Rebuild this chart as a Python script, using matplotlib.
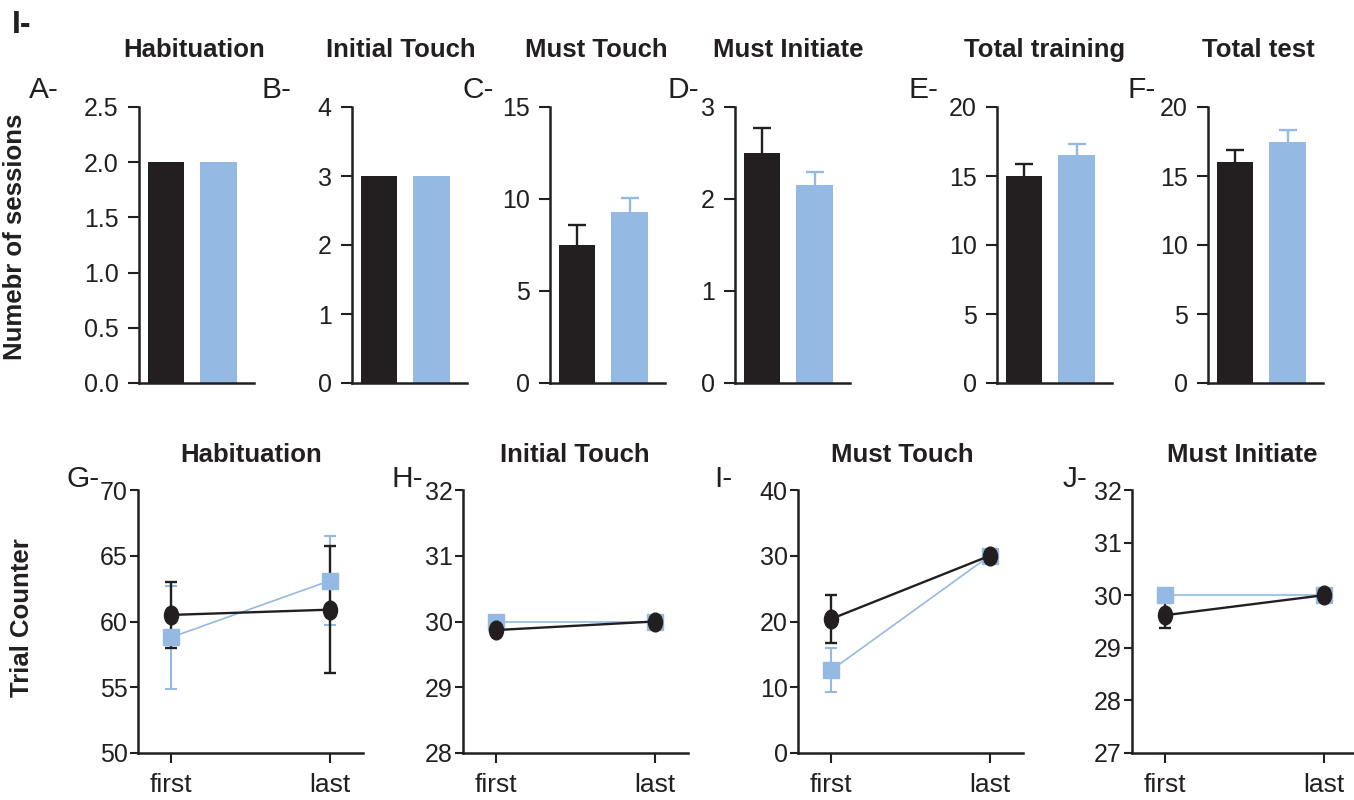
import matplotlib
matplotlib.use('Agg')
import matplotlib.pyplot as plt
from matplotlib.markers import MarkerStyle
from matplotlib.transforms import Affine2D

# --- data ---
bar_titles = ["Habituation", "Initial Touch", "Must Touch", "Must Initiate", "Total training", "Total test"]
bar_letters = ["A-", "B-", "C-", "D-", "E-", "F-"]
bar_black = [2.0, 3.0, 7.5, 2.5, 15.0, 16.0]
bar_black_err = [0.0, 0.0, 1.1, 0.27, 0.9, 0.9]
bar_blue = [2.0, 3.0, 9.3, 2.15, 16.5, 17.5]
bar_blue_err = [0.0, 0.0, 0.75, 0.14, 0.8, 0.85]
bar_ylims = [2.5, 4, 15, 3, 20, 20]
bar_ysteps = [0.5, 1, 5, 1, 5, 5]

line_titles = ["Habituation", "Initial Touch", "Must Touch", "Must Initiate"]
line_letters = ["G-", "H-", "I-", "J-"]
sessions = ["first", "last"]
line_black = [[60.5, 60.9], [29.87, 30.0], [20.4, 30.0], [29.62, 30.0]]
line_black_err = [[2.5, 4.85], [0.0, 0.0], [3.7, 0.0], [0.25, 0.0]]
line_blue = [[58.8, 63.1], [30.0, 30.0], [12.6, 30.0], [30.0, 30.0]]
line_blue_err = [[3.9, 3.4], [0.0, 0.0], [3.3, 0.0], [0.0, 0.0]]
line_ylims = [(50, 70), (28, 32), (0, 40), (27, 32)]
line_ysteps = [5, 1, 10, 1]

BLACK = '#231f20'
BLUE = '#94b9e2'
W, H = 1354, 800

plt.rcParams['font.family'] = ['Liberation Sans', 'DejaVu Sans']
plt.rcParams['text.color'] = BLACK

fig = plt.figure(figsize=(W / 100, H / 100), dpi=100)

def px_axes(x0, top, w, bottom):
    return fig.add_axes([x0 / W, 1 - bottom / H, w / W, (bottom - top) / H])

def style(ax, ypad, xpad):
    for s in ['top', 'right']:
        ax.spines[s].set_visible(False)
    for s in ['left', 'bottom']:
        ax.spines[s].set_linewidth(1.8)
        ax.spines[s].set_color(BLACK)
    ax.tick_params(axis='y', length=8, width=1.5, color=BLACK, labelsize=18,
                   labelcolor=BLACK, pad=ypad)
    ax.tick_params(axis='x', length=8, width=1.5, color=BLACK, labelsize=19,
                   labelcolor=BLACK, pad=xpad)
    ax.patch.set_visible(False)

def upper_err(ax, x, y, err, color):
    _, caps, _ = ax.errorbar([x], [y], yerr=[[0], [err]], fmt='none', ecolor=color,
                             elinewidth=1.7, capsize=6.5, capthick=1.7, zorder=1)
    caps[0].set_visible(False)

# top row: bar charts
bar_x0 = [139, 352, 550, 735, 997, 1208]
title_x = [194, 401, 596, 788, 1045, 1258]
letter_x = [29, 261, 462, 667, 908, 1127]
for i in range(6):
    ax = px_axes(bar_x0[i], 107, 115, 383)
    ax.bar([0], [bar_black[i]], width=0.69, color=BLACK, zorder=2)
    ax.bar([1], [bar_blue[i]], width=0.7, color=BLUE, zorder=2)
    if bar_black_err[i] > 0:
        upper_err(ax, 0, bar_black[i], bar_black_err[i], BLACK)
    if bar_blue_err[i] > 0:
        upper_err(ax, 1, bar_blue[i], bar_blue_err[i], BLUE)
    ax.set_xlim(-0.514, 1.676)
    ax.set_ylim(0, bar_ylims[i])
    n = int(round(bar_ylims[i] / bar_ysteps[i]))
    ticks = [k * bar_ysteps[i] for k in range(n + 1)]
    ax.set_yticks(ticks)
    if i == 0:
        ax.set_yticklabels(['%.1f' % t for t in ticks])
    else:
        ax.set_yticklabels(['%d' % t for t in ticks])
    ax.set_xticks([])
    style(ax, 6.5, 6)
    fig.text(title_x[i] / W, 1 - 57 / H, bar_titles[i], ha='center', va='baseline',
             fontsize=18.5, fontweight='bold')
    fig.text(letter_x[i] / W, 1 - 98 / H, bar_letters[i], ha='left', va='baseline',
             fontsize=21.5)

# bottom row: first vs last sessions
line_x0 = [138, 463, 798, 1132]
ltitle_x = [251, 575, 902, 1242]
lletter_x = [67, 392, 714, 1063]
ellipse = MarkerStyle('o', transform=Affine2D().scale(0.75, 1.0))
for i in range(4):
    ax = px_axes(line_x0[i], 490, 225, 753)
    xs = [0, 1]
    ax.errorbar(xs, line_blue[i], yerr=line_blue_err[i], color=BLUE, lw=1.2,
                marker='s', ms=11.5, mec=BLUE, mfc=BLUE, ecolor=BLUE,
                elinewidth=1.5, capsize=4, capthick=1.5, clip_on=False)
    ax.errorbar(xs, line_black[i], yerr=line_black_err[i], color=BLACK, lw=1.7,
                marker=ellipse, ms=13.5, mec=BLACK, mfc=BLACK, ecolor=BLACK,
                elinewidth=1.7, capsize=4, capthick=1.7, clip_on=False)
    ax.set_xlim(-0.21, 1.21)
    lo, hi = line_ylims[i]
    ax.set_ylim(lo, hi)
    ax.set_yticks(range(lo, hi + 1, line_ysteps[i]))
    ax.set_xticks(xs)
    ax.set_xticklabels(sessions)
    style(ax, 1.5, 7)
    ax.tick_params(axis='x', length=7.5)
    ax.tick_params(axis='y', length=6)
    fig.text(ltitle_x[i] / W, 1 - 462 / H, line_titles[i], ha='center', va='baseline',
             fontsize=18.5, fontweight='bold')
    fig.text(lletter_x[i] / W, 1 - 487 / H, line_letters[i], ha='left', va='baseline',
             fontsize=21.5)

fig.text(12 / W, 1 - 33 / H, 'I-', ha='left', va='baseline', fontsize=23, fontweight='bold')
fig.text(15 / W, 1 - 237 / H, 'Numebr of sessions', rotation=90, ha='center', va='center',
         fontsize=18.5, fontweight='bold')
fig.text(22 / W, 1 - 618 / H, 'Trial Counter', rotation=90, ha='center', va='center',
         fontsize=18.5, fontweight='bold')

fig.savefig('out.png', dpi=100)
